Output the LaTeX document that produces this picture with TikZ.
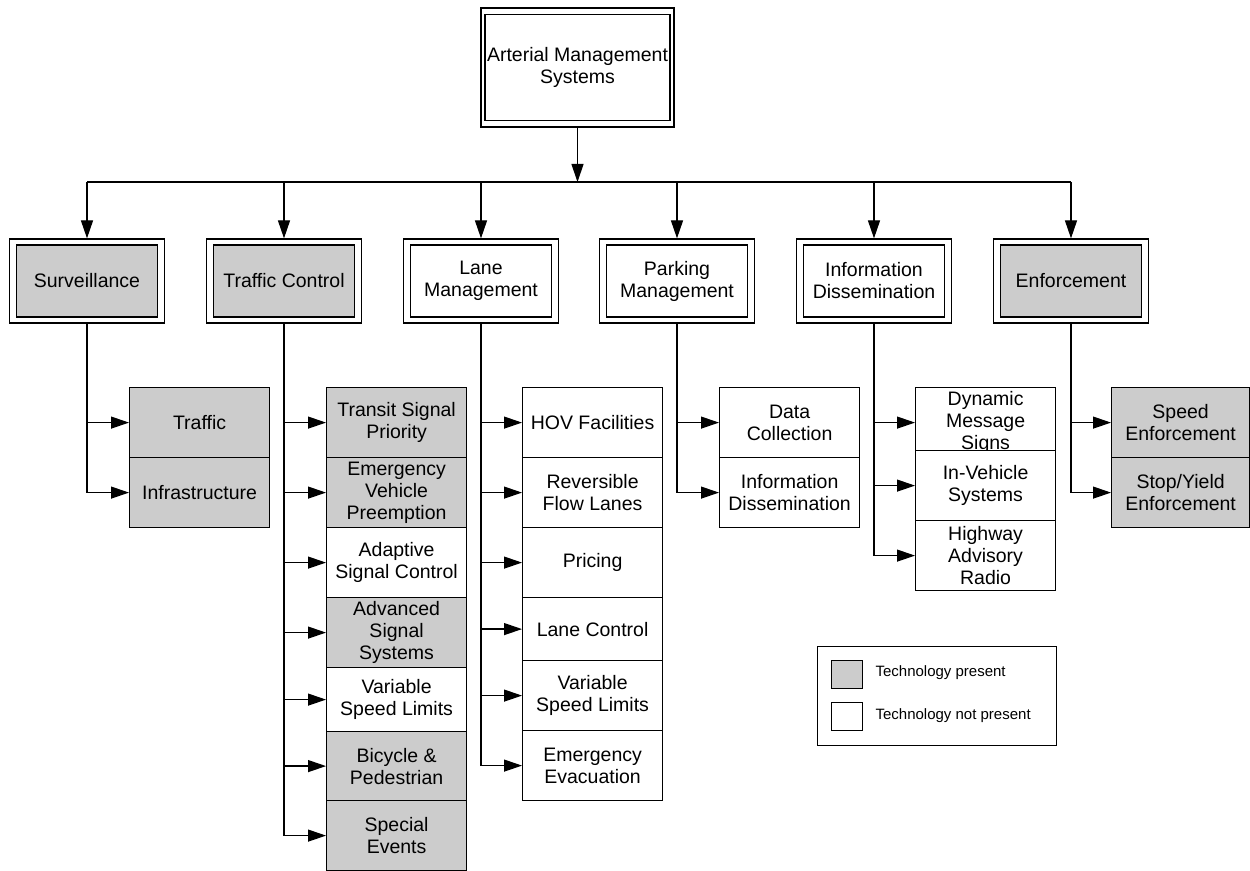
\documentclass[tikz,border=0pt]{standalone}
\usepackage{fontspec}
\setmainfont{Liberation Sans}
\usetikzlibrary{arrows.meta}
\definecolor{boxgray}{RGB}{204,204,204}
\begin{document}
\begin{tikzpicture}[x=0.5pt,y=-0.5pt,
  font=\fontsize{9.75}{11}\selectfont,
  line width=0.6pt,
  box/.style={draw, fill=white, align=center, inner sep=1pt, minimum width=70pt, minimum height=35pt, anchor=north west},
  gr/.style={fill=boxgray},
  outerbox/.style={draw, fill=white, minimum width=77.5pt, minimum height=42pt, inner sep=0pt},
  innerbox/.style={draw, fill=white, align=center, minimum width=70.5pt, minimum height=36pt, inner sep=1pt},
  arr/.style={-{Triangle[length=9pt,width=6pt]}},
  legtext/.style={font=\fontsize{7.5}{9}\selectfont, anchor=west, inner sep=0pt}
]
\useasboundingbox (0,0) rectangle (1250,871);

% top box
\node[draw, fill=white, minimum width=96.5pt, minimum height=59.5pt, inner sep=0pt] (top-o) at (577.5,67.5) {};
\node[draw, align=center, minimum width=89.5pt, minimum height=53pt, inner sep=1pt] (top) at (577.5,67.5) {Arterial Management\\Systems};

% categories
\node[outerbox] (surv-o) at (87,281) {};
\node[innerbox, gr] (surv) at (87,281) {Surveillance};
\node[outerbox] (tc-o) at (284,281) {};
\node[innerbox, gr] (tc) at (284,281) {Traffic Control};
\node[outerbox] (lane-o) at (481,281) {};
\node[innerbox] (lane) at (481,281) {Lane\\Management};
\node[outerbox] (park-o) at (677,281) {};
\node[innerbox] (park) at (677,281) {Parking\\Management};
\node[outerbox] (info-o) at (874,281) {};
\node[innerbox] (info) at (874,281) {Information\\Dissemination};
\node[outerbox] (enf-o) at (1071,281) {};
\node[innerbox, gr] (enf) at (1071,281) {Enforcement};

% top connectors
\coordinate (bus) at (577.5,182);
\draw[arr] (top-o.south) -- (bus);
\draw (bus -| surv-o.north) -- (bus -| enf-o.north);
\foreach \n in {surv,tc,lane,park,info,enf}
  \draw[arr] (bus -| \n-o.north) -- (\n-o.north);

% Surveillance children
\node[box, gr] (s1) at (129,387) {Traffic};
\node[box, gr] (s2) at (129,457) {Infrastructure};
\foreach \c in {s1,s2} \draw[arr] (surv-o.south) |- (\c.west);

% Traffic control children
\node[box, gr] (t1) at (326,387) {Transit Signal\\Priority};
\node[box, gr] (t2) at (326,457) {Emergency\\Vehicle\\Preemption};
\node[box] (t3) at (326,527) {Adaptive\\Signal Control};
\node[box, gr] (t4) at (326,597) {Advanced\\Signal\\Systems};
\node[box, minimum height=32pt] (t5) at (326,667) {Variable\\Speed Limits};
\node[box, gr, minimum height=34.5pt] (t6) at (326,731) {Bicycle \&\\Pedestrian};
\node[box, gr] (t7) at (326,800) {Special\\Events};
\foreach \c in {t1,t2,t3,t4,t5,t6,t7} \draw[arr] (tc-o.south) |- (\c.west);

% Lane management children
\node[box] (l1) at (522,387) {HOV Facilities};
\node[box] (l2) at (522,457) {Reversible\\Flow Lanes};
\node[box] (l3) at (522,527) {Pricing};
\node[box, minimum height=31.5pt] (l4) at (522,597) {Lane Control};
\node[box] (l5) at (522,660) {Variable\\Speed Limits};
\node[box] (l6) at (522,730) {Emergency\\Evacuation};
\foreach \c in {l1,l2,l3,l4,l5,l6} \draw[arr] (lane-o.south) |- (\c.west);

% Parking management children
\node[box] (p1) at (719,387) {Data\\Collection};
\node[box] (p2) at (719,457) {Information\\Dissemination};
\foreach \c in {p1,p2} \draw[arr] (park-o.south) |- (\c.west);

% Information dissemination children
\node[box] (i1) at (915,387) {Dynamic\\Message\\Signs};
\node[box] (i2) at (915,450) {In-Vehicle\\Systems};
\node[box] (i3) at (915,520) {Highway\\Advisory\\Radio};
\foreach \c in {i1,i2,i3} \draw[arr] (info-o.south) |- (\c.west);

% Enforcement children
\node[box, gr, minimum width=69pt] (e1) at (1111,387) {Speed\\Enforcement};
\node[box, gr, minimum width=69pt] (e2) at (1111,457) {Stop/Yield\\Enforcement};
\foreach \c in {e1,e2} \draw[arr] (enf-o.south) |- (\c.west);

% legend
\node[draw, fill=white, minimum width=119.5pt, minimum height=49.5pt, anchor=north west, inner sep=0pt] (legend) at (817,646) {};
\node[draw, gr, minimum width=15.5pt, minimum height=14pt, anchor=north west, inner sep=0pt] (lg1) at (831,660) {};
\node[draw, fill=white, minimum width=15.5pt, minimum height=14pt, anchor=north west, inner sep=0pt] (lg2) at (831,702) {};
\node[legtext] (lt1) at (875,673) {Technology present};
\node[legtext] (lt2) at (875,716) {Technology not present};
\end{tikzpicture}
\end{document}
